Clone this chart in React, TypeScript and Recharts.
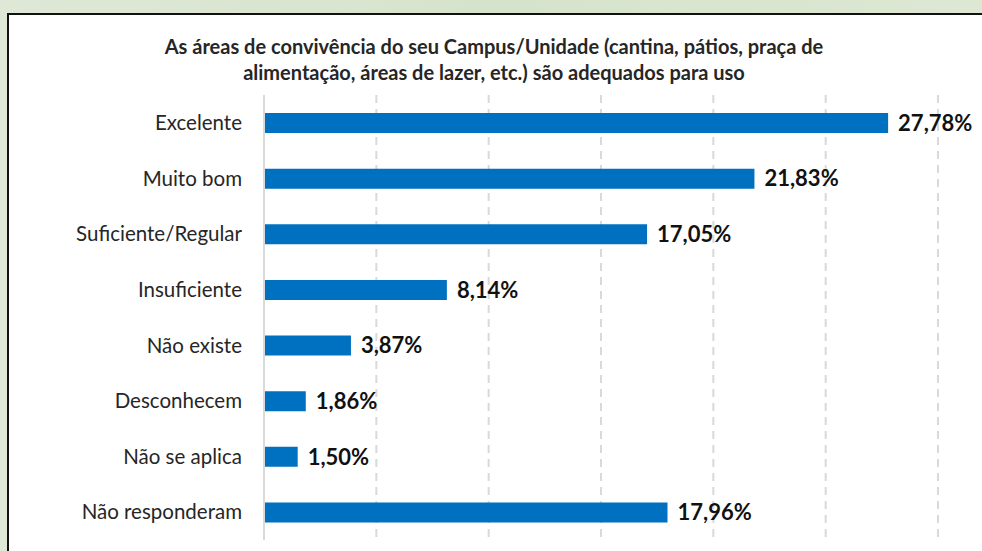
import { BarChart, Bar, XAxis, YAxis, CartesianGrid, LabelList } from 'recharts'

const categories = [
  'Excelente',
  'Muito bom',
  'Suficiente/Regular',
  'Insuficiente',
  'Não existe',
  'Desconhecem',
  'Não se aplica',
  'Não responderam',
]
const percentages = [27.78, 21.83, 17.05, 8.14, 3.87, 1.86, 1.5, 17.96]
const xTicks = [0, 5, 10, 15, 20, 25, 30]

const titleLines = [
  'As áreas de convivência do seu Campus/Unidade (cantina, pátios, praça de',
  'alimentação, áreas de lazer, etc.) são adequados para uso',
]

const data = categories.map((name, i) => ({ name, value: percentages[i] }))

const fontFamily = 'Lato, "Open Sans", sans-serif'

const fmt = (v: any) => Number(v).toFixed(2).replace('.', ',') + '%'

export default function App() {
  return (
    <div
      style={{
        position: 'fixed',
        left: 0,
        top: 0,
        width: 982,
        height: 551,
        overflow: 'hidden',
        background: 'linear-gradient(90deg, #dfe8d6 0%, #d6e3cc 50%, #dde7d3 100%)',
        fontFamily,
      }}
    >
      <div
        style={{
          position: 'absolute',
          left: 7,
          top: 13,
          width: 1000,
          height: 600,
          background: '#fff',
          border: '2px solid #111',
          boxSizing: 'border-box',
        }}
      />
      <div
        style={{
          position: 'absolute',
          left: 0,
          top: 33,
          width: 988,
          textAlign: 'center',
          fontWeight: 700,
          fontSize: 20,
          lineHeight: '26px',
          color: '#262626',
        }}
      >
        {titleLines.map((l) => (
          <div key={l}>{l}</div>
        ))}
      </div>
      <div style={{ position: 'absolute', left: 0, top: 0 }}>
        <BarChart
          width={982}
          height={551}
          data={data}
          layout="vertical"
          margin={{ top: 95, right: 44, bottom: 11, left: 0 }}
        >
          <CartesianGrid
            horizontal={false}
            stroke="#d9d9d9"
            strokeWidth={2}
            strokeDasharray="8 6"
          />
          <XAxis type="number" domain={[0, 30]} ticks={xTicks} hide />
          <YAxis
            type="category"
            dataKey="name"
            width={264}
            tickLine={false}
            axisLine={{ stroke: '#d9d9d9', strokeWidth: 2 }}
            tickMargin={16}
            tick={{ fill: '#262626', fontSize: 20.5, fontFamily }}
          />
          <Bar dataKey="value" fill="#0070c0" barSize={20} isAnimationActive={false}>
            <LabelList
              dataKey="value"
              position="right"
              offset={10}
              formatter={fmt}
              style={{ fill: '#111', fontSize: 22, fontWeight: 700, fontFamily }}
            />
          </Bar>
        </BarChart>
      </div>
    </div>
  )
}
